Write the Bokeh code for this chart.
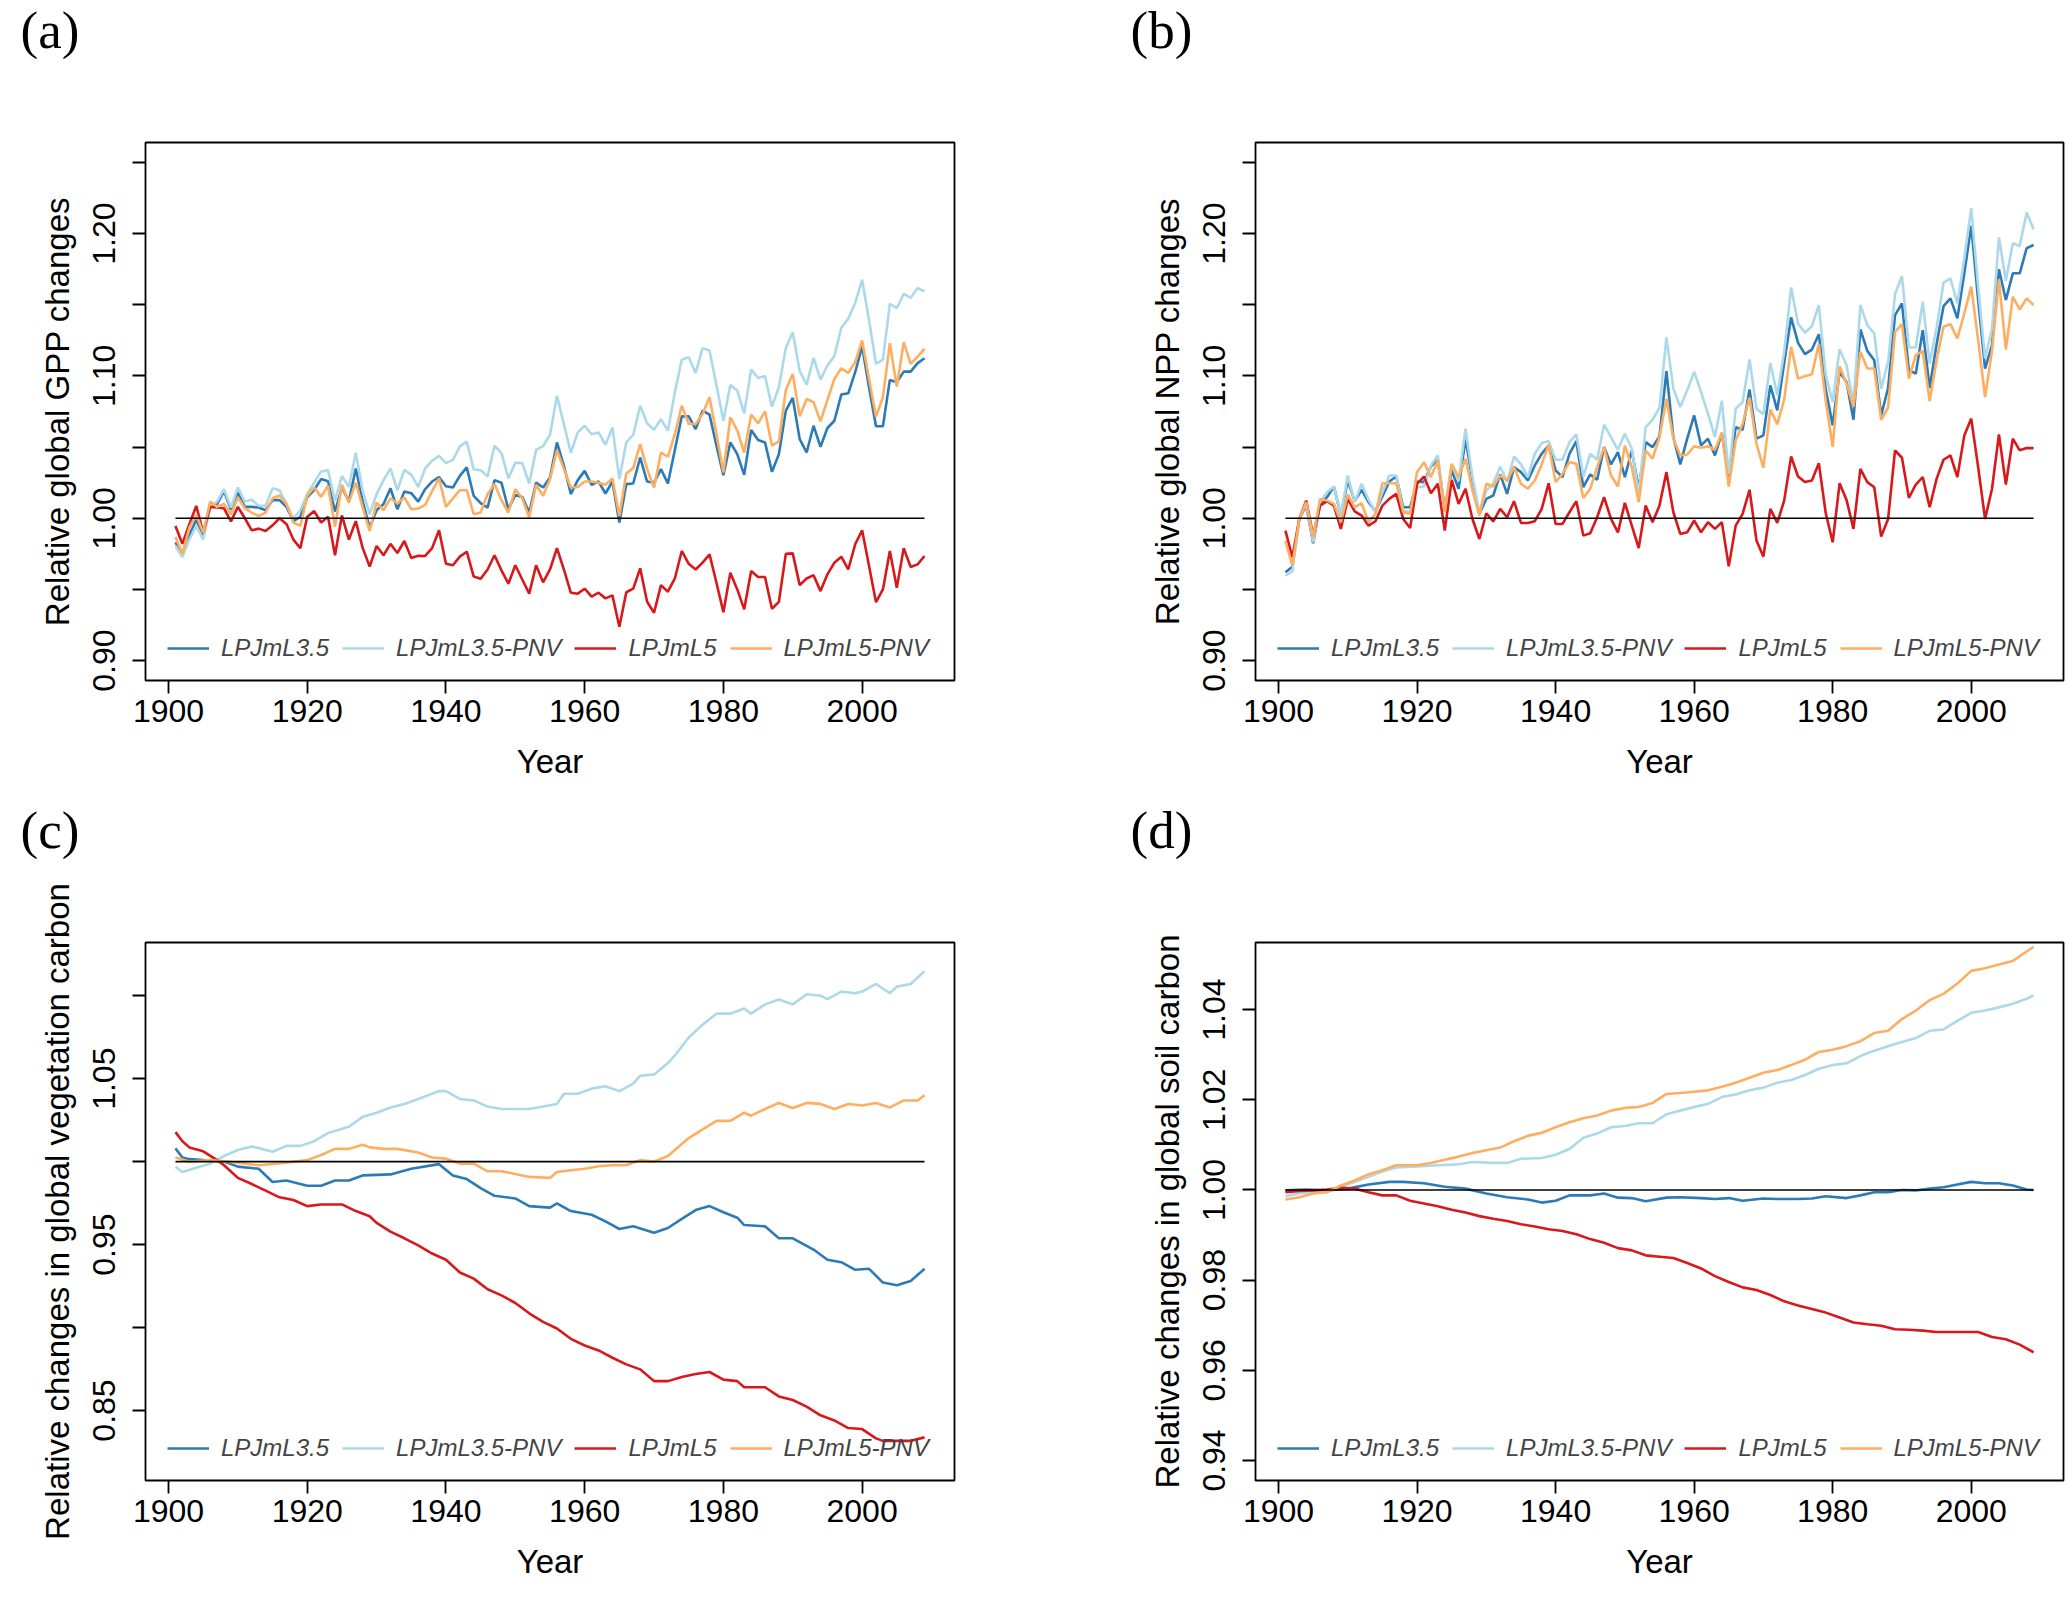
from bokeh.plotting import figure
from bokeh.layouts import column, row
from bokeh.models import Range1d, FixedTicker, Legend, LegendItem, Label, PrintfTickFormatter
from bokeh.embed import file_html
from bokeh.resources import INLINE

# ---------------- data ----------------
years = list(range(1901, 2010))
names = ["LPJmL3.5", "LPJmL3.5-PNV", "LPJmL5", "LPJmL5-PNV"]
colors = ["#2C7BB6", "#ABD9E9", "#D7191C", "#FDAE61"]
x_ticks = [1900, 1920, 1940, 1960, 1980, 2000]
ref_value = 1.0

gpp_l35 = [0.983, 0.974, 0.988, 0.999, 0.988, 1.008, 1.010, 1.019, 1.006, 1.018,
           1.008, 1.008, 1.0075, 1.0056, 1.0127, 1.0127, 1.008, 0.998, 1.001, 1.0146,
           1.020, 1.0275, 1.026, 1.0047, 1.0216, 1.012, 1.035, 1.0117, 0.9934, 1.0056,
           1.010, 1.021, 1.0063, 1.0188, 1.0176, 1.0117, 1.0204, 1.0258, 1.029, 1.0225,
           1.0216, 1.0298, 1.0357, 1.0157, 1.0106, 1.0075, 1.0268, 1.025, 1.0063, 1.0164,
           1.015, 1.004, 1.025, 1.0216, 1.0286, 1.0533, 1.0369, 1.017, 1.0268, 1.0333,
           1.0235, 1.0258, 1.0174, 1.0258, 0.997, 1.024, 1.0244, 1.0427, 1.0258, 1.025,
           1.0345, 1.0244, 1.048, 1.0716, 1.0716, 1.0627, 1.0756, 1.0728, 1.051, 1.0303,
           1.0533, 1.045, 1.0305, 1.062, 1.055, 1.0533, 1.0326, 1.045, 1.0756, 1.0845,
           1.0556, 1.0462, 1.065, 1.0502, 1.0634, 1.0685, 1.0869, 1.0878, 1.1026, 1.1207,
           1.092, 1.0646, 1.0646, 1.0972, 1.0955, 1.103, 1.103, 1.109, 1.1124]
gpp_l35pnv = [0.9805, 0.9728, 0.985, 0.9946, 0.985, 1.0075, 1.0117, 1.0204, 1.0075, 1.0216,
              1.0117, 1.013, 1.0087, 1.0087, 1.021, 1.0197, 1.010, 1.000, 1.0056, 1.017,
              1.025, 1.0329, 1.0338, 1.0122, 1.0298, 1.022, 1.046, 1.019, 1.0028, 1.017,
              1.0268, 1.035, 1.0197, 1.034, 1.0305, 1.022, 1.035, 1.0404, 1.0439, 1.0387,
              1.041, 1.0505, 1.0538, 1.0343, 1.0338, 1.0293, 1.051, 1.0458, 1.028, 1.039,
              1.0387, 1.0244, 1.048, 1.0507, 1.0587, 1.086, 1.066, 1.046, 1.0603, 1.065,
              1.059, 1.0603, 1.0516, 1.0638, 1.0275, 1.0533, 1.0585, 1.079, 1.0667, 1.0622,
              1.0697, 1.0615, 1.0885, 1.1113, 1.1131, 1.1021, 1.1195, 1.1178, 1.0932, 1.0685,
              1.0937, 1.0897, 1.0737, 1.1045, 1.0986, 1.0998, 1.0784, 1.092, 1.1197, 1.1307,
              1.1033, 1.0939, 1.1127, 1.0974, 1.1073, 1.1139, 1.1338, 1.1401, 1.1512, 1.1676,
              1.139, 1.1085, 1.1115, 1.1507, 1.1477, 1.1577, 1.1549, 1.1617, 1.1594]
gpp_l5 = [0.9946, 0.982, 0.9958, 1.0087, 0.990, 1.008, 1.0075, 1.007, 0.9977, 1.008,
          1.000, 0.9915, 0.9927, 0.991, 0.995, 1.000, 0.996, 0.985, 0.979, 1.001,
          1.005, 0.997, 1.001, 0.974, 1.002, 0.985, 0.998, 0.979, 0.966, 0.9805,
          0.974, 0.982, 0.9756, 0.984, 0.972, 0.9737, 0.9735, 0.979, 0.9915, 0.968,
          0.967, 0.973, 0.9765, 0.959, 0.9575, 0.964, 0.974, 0.9634, 0.954, 0.967,
          0.957, 0.947, 0.967, 0.955, 0.964, 0.979, 0.964, 0.9477, 0.947, 0.9505,
          0.945, 0.9477, 0.9437, 0.9458, 0.9237, 0.948, 0.9505, 0.9648, 0.9413, 0.9336,
          0.953, 0.9484, 0.9577, 0.977, 0.968, 0.964, 0.9688, 0.9746, 0.9547, 0.934,
          0.9617, 0.950, 0.936, 0.963, 0.9587, 0.9587, 0.9364, 0.9413, 0.975, 0.9753,
          0.953, 0.9577, 0.960, 0.9488, 0.9606, 0.9688, 0.973, 0.964, 0.9817, 0.9915,
          0.9664, 0.941, 0.950, 0.977, 0.9512, 0.979, 0.9657, 0.9676, 0.9735]
gpp_l5pnv = [0.9869, 0.975, 0.9934, 1.0023, 0.990, 1.0117, 1.008, 1.010, 1.0028, 1.0146,
             1.007, 1.004, 1.0016, 1.004, 1.014, 1.016, 1.0103, 0.997, 0.9946, 1.0157,
             1.0216, 1.015, 1.0228, 0.994, 1.0235, 1.011, 1.025, 1.0075, 0.991, 1.011,
             1.0056, 1.014, 1.0103, 1.0146, 1.0063, 1.0068, 1.0094, 1.019, 1.028, 1.008,
             1.014, 1.0197, 1.0197, 1.0028, 1.004, 1.017, 1.024, 1.0127, 1.004, 1.0204,
             1.014, 1.0005, 1.0235, 1.0157, 1.0275, 1.048, 1.0345, 1.0216, 1.022, 1.0258,
             1.0258, 1.025, 1.0235, 1.028, 1.0016, 1.0315, 1.0352, 1.0521, 1.0345, 1.0216,
             1.0462, 1.0432, 1.0592, 1.079, 1.0662, 1.0662, 1.0732, 1.085, 1.0592, 1.0322,
             1.0709, 1.0615, 1.0462, 1.0728, 1.0667, 1.0751, 1.051, 1.054, 1.0901, 1.1014,
             1.0716, 1.0838, 1.0815, 1.0681, 1.0831, 1.0979, 1.1054, 1.1021, 1.1096, 1.1249,
             1.0979, 1.0714, 1.085, 1.123, 1.0925, 1.1237, 1.1085, 1.1136, 1.119]

npp_l35 = [0.962, 0.966, 0.9995, 1.0089, 0.9824, 1.0096, 1.0148, 1.0223, 1.0019, 1.0265,
           1.012, 1.020, 1.0113, 1.0049, 1.0153, 1.0258, 1.0293, 1.0077, 1.0077, 1.0258,
           1.0254, 1.0364, 1.0411, 1.0066, 1.0336, 1.0207, 1.0559, 1.0265, 1.0031, 1.0136,
           1.016, 1.0308, 1.0171, 1.0359, 1.0324, 1.0265, 1.0371, 1.0453, 1.0512, 1.0336,
           1.0289, 1.0453, 1.0542, 1.0218, 1.0308, 1.027, 1.05, 1.0378, 1.0465, 1.0289,
           1.0476, 1.0207, 1.0535, 1.05, 1.0575, 1.1033, 1.057, 1.0378, 1.0559, 1.0723,
           1.0512, 1.0559, 1.0441, 1.0599, 1.0289, 1.064, 1.0622, 1.0904, 1.0559, 1.0582,
           1.0934, 1.0758, 1.1092, 1.1411, 1.1232, 1.1153, 1.1185, 1.1293, 1.0904, 1.0653,
           1.1028, 1.0958, 1.0692, 1.1326, 1.1176, 1.111, 1.0723, 1.0915, 1.1427, 1.1509,
           1.104, 1.1016, 1.1322, 1.0915, 1.1223, 1.149, 1.1545, 1.1404, 1.1721, 1.2054,
           1.1533, 1.1052, 1.1216, 1.1749, 1.1533, 1.1721, 1.1721, 1.1897, 1.192]
npp_l35pnv = [0.9596, 0.9627, 0.9995, 1.0101, 0.9831, 1.0113, 1.0183, 1.0223, 1.0019, 1.030,
              1.0113, 1.0242, 1.0129, 1.0042, 1.0183, 1.030, 1.030, 1.0054, 1.0042, 1.0218,
              1.0223, 1.0371, 1.0441, 1.0054, 1.0378, 1.0261, 1.0629, 1.0289, 1.0042, 1.0195,
              1.0242, 1.0364, 1.0254, 1.0434, 1.0378, 1.0289, 1.0453, 1.0528, 1.0542, 1.0411,
              1.0411, 1.0535, 1.0589, 1.0293, 1.0453, 1.0411, 1.0657, 1.057, 1.0481, 1.0594,
              1.0488, 1.0167, 1.064, 1.0692, 1.0777, 1.127, 1.0911, 1.0782, 1.0899, 1.1028,
              1.0887, 1.0735, 1.057, 1.0826, 1.0312, 1.077, 1.0817, 1.1115, 1.077, 1.073,
              1.1092, 1.0864, 1.1169, 1.1622, 1.1369, 1.1303, 1.135, 1.1498, 1.1005, 1.0817,
              1.1188, 1.1075, 1.0805, 1.1498, 1.1357, 1.1298, 1.0911, 1.1098, 1.1575, 1.1702,
              1.12, 1.12, 1.1521, 1.1087, 1.1341, 1.1655, 1.1685, 1.151, 1.1826, 1.2178,
              1.1627, 1.1122, 1.1333, 1.1974, 1.1669, 1.1932, 1.1913, 1.2148, 1.2031]
npp_l5 = [0.9913, 0.9725, 0.9995, 1.0124, 0.9878, 1.0089, 1.012, 1.0089, 0.9925, 1.0136,
          1.0049, 1.0019, 0.9948, 0.9979, 1.0089, 1.0136, 1.0171, 0.9995, 0.9932, 1.0242,
          1.0293, 1.0176, 1.0242, 0.9913, 1.027, 1.0101, 1.0207, 0.9995, 0.9854, 1.0035,
          0.9977, 1.0066, 1.0007, 1.012, 0.9967, 0.9967, 0.9979, 1.0066, 1.0246, 0.996,
          0.996, 1.0042, 1.012, 0.9878, 0.9894, 1.0007, 1.0148, 0.9995, 0.9901, 1.0108,
          0.9948, 0.9791, 1.0089, 0.9972, 1.0089, 1.0324, 1.0042, 0.989, 0.9901, 0.9984,
          0.9901, 0.9972, 0.9925, 0.9972, 0.9662, 0.9948, 1.0031, 1.020, 0.9843, 0.973,
          1.0066, 0.9967, 1.0124, 1.0434, 1.0293, 1.0254, 1.0265, 1.0387, 1.0035, 0.9831,
          1.0246, 1.0129, 0.9925, 1.0347, 1.0254, 1.0218, 0.9871, 0.9995, 1.0477, 1.0425,
          1.0143, 1.0237, 1.0289, 1.0077, 1.0277, 1.0411, 1.0441, 1.0289, 1.0582, 1.07,
          1.0359, 0.9995, 1.0207, 1.0589, 1.0237, 1.0559, 1.0477, 1.0493, 1.0493]
npp_l5pnv = [0.9843, 0.9667, 0.9995, 1.0113, 0.9866, 1.0136, 1.0124, 1.0101, 0.9972, 1.0167,
             1.0077, 1.0106, 0.9972, 1.0031, 1.0246, 1.0246, 1.0246, 1.0042, 1.0031, 1.0324,
             1.0394, 1.0289, 1.0406, 1.0042, 1.0383, 1.0289, 1.0418, 1.0195, 1.0019, 1.0242,
             1.0223, 1.030, 1.0265, 1.0359, 1.0242, 1.0207, 1.0265, 1.0378, 1.0519, 1.0254,
             1.0312, 1.0394, 1.0383, 1.0143, 1.0207, 1.0359, 1.05, 1.030, 1.0223, 1.0512,
             1.0359, 1.0113, 1.0476, 1.0418, 1.057, 1.084, 1.0559, 1.0441, 1.0448, 1.0505,
             1.0495, 1.0505, 1.0481, 1.0599, 1.0223, 1.0547, 1.0664, 1.0847, 1.0523, 1.0354,
             1.0763, 1.066, 1.0833, 1.1204, 1.0981, 1.0998, 1.1012, 1.1223, 1.0826, 1.05,
             1.1068, 1.0946, 1.0782, 1.1169, 1.1052, 1.1052, 1.0692, 1.0777, 1.131, 1.1364,
             1.0981, 1.1146, 1.1176, 1.0824, 1.111, 1.1345, 1.1364, 1.1263, 1.1439, 1.1627,
             1.1251, 1.0852, 1.1176, 1.1678, 1.1185, 1.1556, 1.1467, 1.1545, 1.1498]

# vegetation carbon (read at the years given)
veg_l35_yr = [1901, 1902, 1903, 1905, 1908, 1910, 1913, 1915, 1917, 1920, 1922, 1924, 1926, 1928, 1932, 1935, 1939, 1941, 1943, 1945, 1947, 1950, 1952, 1955, 1956, 1958, 1961, 1963, 1965, 1967, 1970, 1972, 1974, 1976, 1978, 1980, 1982, 1983, 1986, 1988, 1990, 1993, 1995, 1997, 1999, 2001, 2003, 2005, 2007, 2009]
veg_l35 = [1.008, 1.0025, 1.0015, 1.001, 1.000, 0.997, 0.9957, 0.9877, 0.9886, 0.9855, 0.9855, 0.9886, 0.9886, 0.9917, 0.9923, 0.9957, 0.9985, 0.9917, 0.9895, 0.984, 0.9794, 0.9778, 0.9732, 0.9723, 0.9748, 0.9702, 0.968, 0.964, 0.9594, 0.961, 0.9572, 0.96, 0.9655, 0.9708, 0.9732, 0.9695, 0.9662, 0.9618, 0.961, 0.9538, 0.9538, 0.947, 0.9409, 0.9394, 0.9348, 0.9354, 0.9271, 0.9255, 0.928, 0.9354]
veg_l35pnv_yr = [1901, 1902, 1904, 1906, 1908, 1910, 1912, 1915, 1917, 1919, 1921, 1923, 1926, 1928, 1930, 1932, 1934, 1936, 1939, 1940, 1942, 1944, 1946, 1948, 1950, 1952, 1954, 1956, 1957, 1959, 1961, 1963, 1965, 1967, 1968, 1970, 1972, 1973, 1975, 1977, 1979, 1981, 1983, 1984, 1986, 1988, 1990, 1992, 1994, 1995, 1997, 1999, 2000, 2002, 2004, 2005, 2007, 2009]
veg_l35pnv = [0.9969, 0.9938, 0.9963, 0.9988, 1.0034, 1.007, 1.0092, 1.006, 1.0095, 1.0095, 1.0123, 1.0172, 1.021, 1.027, 1.0295, 1.0326, 1.0348, 1.0378, 1.0425, 1.0425, 1.0378, 1.0369, 1.0332, 1.0317, 1.0317, 1.0317, 1.0332, 1.0348, 1.0409, 1.0409, 1.044, 1.0455, 1.0425, 1.047, 1.0517, 1.0526, 1.0594, 1.064, 1.0748, 1.0825, 1.0892, 1.0892, 1.0923, 1.0892, 1.0948, 1.0978, 1.0948, 1.1009, 1.1, 1.098, 1.1025, 1.1015, 1.1025, 1.1071, 1.1015, 1.1055, 1.1071, 1.1148]
veg_l5_yr = [1901, 1902, 1903, 1905, 1907, 1908, 1910, 1912, 1914, 1916, 1918, 1920, 1922, 1925, 1927, 1929, 1930, 1932, 1934, 1936, 1938, 1940, 1942, 1944, 1946, 1948, 1950, 1952, 1954, 1956, 1958, 1960, 1962, 1964, 1966, 1968, 1970, 1972, 1974, 1976, 1978, 1980, 1982, 1983, 1986, 1988, 1990, 1992, 1994, 1996, 1998, 2000, 2002, 2003, 2005, 2007, 2009]
veg_l5 = [1.0178, 1.0123, 1.0086, 1.0062, 1.0009, 0.9978, 0.9902, 0.9865, 0.9825, 0.9785, 0.9769, 0.9732, 0.9742, 0.9742, 0.9702, 0.9671, 0.9631, 0.9578, 0.9538, 0.9495, 0.9446, 0.9409, 0.9332, 0.9295, 0.9231, 0.9194, 0.9148, 0.9086, 0.9034, 0.8994, 0.8932, 0.8892, 0.8862, 0.8818, 0.8778, 0.8748, 0.8677, 0.8677, 0.8702, 0.872, 0.8732, 0.8686, 0.8677, 0.864, 0.864, 0.8585, 0.8563, 0.8523, 0.8471, 0.844, 0.8394, 0.8388, 0.8332, 0.8317, 0.8317, 0.8317, 0.8338]
veg_l5pnv_yr = [1901, 1903, 1906, 1910, 1913, 1917, 1920, 1922, 1924, 1926, 1928, 1929, 1931, 1933, 1936, 1938, 1940, 1942, 1944, 1946, 1948, 1950, 1952, 1955, 1956, 1958, 1960, 1962, 1964, 1966, 1968, 1970, 1972, 1973, 1975, 1977, 1979, 1981, 1983, 1984, 1986, 1988, 1990, 1992, 1994, 1996, 1998, 2000, 2002, 2004, 2006, 2008, 2009]
veg_l5pnv = [1.0025, 1.0, 1.0009, 0.9994, 0.9978, 0.9994, 1.0009, 1.004, 1.0077, 1.0077, 1.0102, 1.0086, 1.0077, 1.0077, 1.0055, 1.0025, 1.0018, 0.9988, 0.9988, 0.9942, 0.9942, 0.9926, 0.9908, 0.9902, 0.9938, 0.9948, 0.9957, 0.9972, 0.9978, 0.9978, 1.0009, 1.0, 1.0034, 1.007, 1.0142, 1.0194, 1.0246, 1.0246, 1.0295, 1.0277, 1.0317, 1.0354, 1.0323, 1.0354, 1.0348, 1.0317, 1.0348, 1.0338, 1.0354, 1.0326, 1.0369, 1.0369, 1.04]

# soil carbon (read at the years given)
soil_l35_yr = [1901, 1904, 1907, 1910, 1913, 1916, 1918, 1921, 1924, 1927, 1930, 1933, 1936, 1938, 1940, 1942, 1945, 1947, 1949, 1951, 1953, 1956, 1958, 1961, 1963, 1965, 1967, 1970, 1972, 1975, 1977, 1979, 1982, 1984, 1986, 1988, 1990, 1992, 1994, 1996, 1998, 2000, 2002, 2004, 2006, 2008, 2009]
soil_l35 = [0.9999, 1.0001, 0.9999, 1.0003, 1.0012, 1.0018, 1.0018, 1.0015, 1.0007, 1.0003, 0.9992, 0.9984, 0.9979, 0.9972, 0.9976, 0.9988, 0.9988, 0.9992, 0.9983, 0.9982, 0.9975, 0.9983, 0.9984, 0.9982, 0.998, 0.9982, 0.9976, 0.9981, 0.998, 0.998, 0.9981, 0.9986, 0.9982, 0.9988, 0.9995, 0.9995, 1.0, 0.9999, 1.0003, 1.0006, 1.0012, 1.0018, 1.0015, 1.0015, 1.001, 1.0001, 1.0]
soil_l35pnv_yr = [1901, 1903, 1905, 1907, 1909, 1911, 1913, 1915, 1917, 1920, 1923, 1926, 1928, 1931, 1933, 1935, 1938, 1940, 1942, 1944, 1946, 1948, 1950, 1952, 1954, 1956, 1958, 1960, 1962, 1964, 1966, 1968, 1970, 1972, 1974, 1976, 1978, 1980, 1982, 1984, 1986, 1988, 1990, 1992, 1994, 1996, 1998, 2000, 2002, 2004, 2006, 2008, 2009]
soil_l35pnv = [0.9986, 0.9993, 0.9995, 0.9999, 1.0007, 1.0018, 1.0029, 1.0041, 1.005, 1.0052, 1.0055, 1.0057, 1.0062, 1.006, 1.006, 1.0069, 1.0071, 1.0078, 1.0091, 1.0116, 1.0125, 1.0139, 1.0142, 1.0148, 1.0148, 1.0168, 1.0176, 1.0184, 1.0191, 1.0206, 1.0212, 1.0221, 1.0227, 1.0238, 1.0244, 1.0255, 1.0269, 1.0277, 1.0281, 1.0297, 1.0309, 1.0319, 1.0328, 1.0337, 1.0353, 1.0356, 1.0375, 1.0393, 1.0398, 1.0405, 1.0413, 1.0424, 1.0432]
soil_l5_yr = [1901, 1903, 1905, 1907, 1909, 1911, 1913, 1915, 1917, 1919, 1921, 1923, 1925, 1927, 1929, 1931, 1933, 1935, 1937, 1939, 1941, 1943, 1945, 1947, 1949, 1951, 1953, 1955, 1957, 1959, 1961, 1963, 1965, 1967, 1969, 1971, 1973, 1975, 1977, 1979, 1981, 1983, 1985, 1987, 1989, 1991, 1993, 1995, 1997, 1999, 2001, 2003, 2005, 2007, 2009]
soil_l5 = [0.9995, 0.9998, 0.9999, 1.0001, 1.0005, 1.0003, 0.9995, 0.9988, 0.9988, 0.9976, 0.997, 0.9964, 0.9956, 0.995, 0.9942, 0.9936, 0.9931, 0.9924, 0.9919, 0.9913, 0.9909, 0.9902, 0.9891, 0.9883, 0.9871, 0.9866, 0.9855, 0.9852, 0.9849, 0.9838, 0.9826, 0.9809, 0.9796, 0.9784, 0.9778, 0.9767, 0.9753, 0.9744, 0.9736, 0.9728, 0.9717, 0.9706, 0.9702, 0.9699, 0.9691, 0.969, 0.9688, 0.9685, 0.9685, 0.9685, 0.9685, 0.9674, 0.9669, 0.9657, 0.964]
soil_l5pnv_yr = [1901, 1903, 1905, 1907, 1909, 1911, 1913, 1915, 1917, 1920, 1922, 1924, 1926, 1928, 1930, 1932, 1934, 1936, 1938, 1940, 1942, 1944, 1946, 1948, 1950, 1952, 1954, 1956, 1958, 1960, 1962, 1964, 1966, 1968, 1970, 1972, 1974, 1976, 1978, 1980, 1982, 1984, 1986, 1988, 1990, 1992, 1994, 1996, 1998, 2000, 2002, 2004, 2006, 2008, 2009]
soil_l5pnv = [0.9979, 0.9984, 0.9992, 0.9995, 1.001, 1.0021, 1.0035, 1.0044, 1.0055, 1.0055, 1.006, 1.0067, 1.0074, 1.0082, 1.0088, 1.0094, 1.0108, 1.012, 1.0127, 1.0139, 1.015, 1.0159, 1.0165, 1.0176, 1.0182, 1.0184, 1.0193, 1.0213, 1.0215, 1.0218, 1.0221, 1.0229, 1.0238, 1.0249, 1.026, 1.0266, 1.0277, 1.0289, 1.0306, 1.0311, 1.0319, 1.033, 1.0348, 1.0353, 1.0379, 1.0398, 1.0421, 1.0435, 1.0458, 1.0486, 1.0492, 1.05, 1.0508, 1.0529, 1.0539]

# y axes
ab_major = [0.90, 1.00, 1.10, 1.20]
ab_minor = [0.95, 1.05, 1.15, 1.25]
c_major = [0.85, 0.95, 1.05]
c_minor = [0.90, 1.00, 1.10]
d_major = [0.94, 0.96, 0.98, 1.00, 1.02, 1.04]

FONT = "Liberation Sans"
X0, X1 = 1896.68, 2013.32


def make_panel(ylabel, xs_list, ys_list, yr, ymaj, ymin, w, h, mbl, mbr, mbt, mbb):
    p = figure(width=w, height=h, output_backend="svg", toolbar_location=None,
               x_range=Range1d(X0, X1), y_range=Range1d(*yr),
               min_border_left=mbl, min_border_right=mbr, min_border_top=mbt, min_border_bottom=mbb,
               background_fill_color="white", border_fill_color="white")
    p.xgrid.visible = False
    p.ygrid.visible = False
    p.outline_line_color = "black"
    p.outline_line_width = 1.8
    p.outline_line_alpha = 1.0

    p.xaxis.ticker = FixedTicker(ticks=x_ticks)
    p.yaxis.ticker = FixedTicker(ticks=ymaj, minor_ticks=ymin)
    p.yaxis.formatter = PrintfTickFormatter(format="%.2f")
    p.xaxis.axis_label = "Year"
    p.yaxis.axis_label = ylabel
    for ax in (p.xaxis[0], p.yaxis[0]):
        ax.axis_line_color = None
        ax.major_tick_line_width = 1.8
        ax.major_tick_line_color = "black"
        ax.major_tick_out = 13
        ax.major_tick_in = 0
        ax.minor_tick_line_width = 1.8
        ax.minor_tick_line_color = "black"
        ax.minor_tick_out = 13
        ax.minor_tick_in = 0
        ax.major_label_text_font = FONT
        ax.major_label_text_font_size = "32px"
        ax.major_label_text_color = "black"
        ax.axis_label_text_font = FONT
        ax.axis_label_text_font_size = "33px"
        ax.axis_label_text_font_style = "normal"
        ax.axis_label_text_color = "black"
    p.xaxis.major_label_standoff = 6
    p.xaxis.axis_label_standoff = 18
    p.yaxis.major_label_orientation = "vertical"
    p.yaxis.major_label_standoff = 17
    p.yaxis.axis_label_standoff = 15

    items = []
    for name, col, xs, ys in zip(names, colors, xs_list, ys_list):
        r = p.line(xs, ys, line_color=col, line_width=2.6)
        items.append(LegendItem(label=name, renderers=[r]))
    all_years = xs_list[0]
    p.line([all_years[0], all_years[-1]], [ref_value, ref_value], line_color="black", line_width=1.6)

    leg = Legend(items=items, orientation="horizontal", location=(22, 18),
                 label_text_font=FONT, label_text_font_style="italic", label_text_font_size="24px",
                 glyph_width=42, glyph_height=20, label_standoff=12, spacing=13,
                 padding=0, margin=0, border_line_color=None, background_fill_alpha=0)
    p.add_layout(leg)
    return p


def make_tag(tag, w, h, tx, ty):
    """A thin strip (no axes) holding the panel letter."""
    t = figure(width=w, height=h, output_backend="svg", toolbar_location=None,
               x_range=Range1d(0, w), y_range=Range1d(0, h),
               x_axis_type=None, y_axis_type=None, min_border=0,
               background_fill_color="white", border_fill_color="white")
    t.outline_line_color = None
    t.xgrid.visible = False
    t.ygrid.visible = False
    t.add_layout(Label(x=tx, y=ty, text=tag, text_font="Liberation Serif",
                       text_font_size="53px", text_baseline="alphabetic",
                       text_align="left", text_color="black"))
    return t


ta = make_tag("(a)", 1034, 62, 20, 32.5)
tb = make_tag("(b)", 1033, 62, 96, 32.5)
tc = make_tag("(c)", 1034, 62, 20, 32.5)
td = make_tag("(d)", 1033, 62, 96, 32.5)

pa = make_panel("Relative global GPP changes", [years] * 4,
                [gpp_l35, gpp_l35pnv, gpp_l5, gpp_l5pnv], (0.886, 1.264), ab_major, ab_minor,
                1034, 738, 145, 80, 80, 120)
pb = make_panel("Relative global NPP changes", [years] * 4,
                [npp_l35, npp_l35pnv, npp_l5, npp_l5pnv], (0.886, 1.264), ab_major, ab_minor,
                1033, 738, 221, 4, 80, 120)
pc = make_panel("Relative changes in global vegetation carbon",
                [veg_l35_yr, veg_l35pnv_yr, veg_l5_yr, veg_l5pnv_yr],
                [veg_l35, veg_l35pnv, veg_l5, veg_l5pnv], (0.8078, 1.1321), c_major, c_minor,
                1034, 738, 145, 80, 80, 120)
pd = make_panel("Relative changes in global soil carbon",
                [soil_l35_yr, soil_l35pnv_yr, soil_l5_yr, soil_l5pnv_yr],
                [soil_l35, soil_l35pnv, soil_l5, soil_l5pnv], (0.93556, 1.05489), d_major, [],
                1033, 738, 221, 4, 80, 120)

page = column(row(ta, tb), row(pa, pb), row(tc, td), row(pc, pd))

open("out.html", "w").write(file_html(page, INLINE))
